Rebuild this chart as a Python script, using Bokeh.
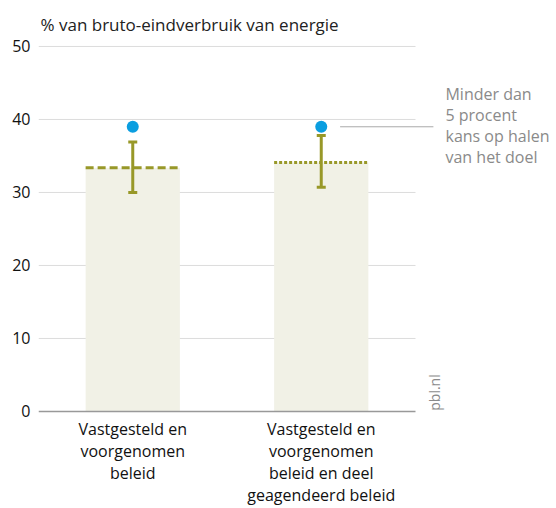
from bokeh.plotting import figure
from bokeh.models import ColumnDataSource, Range1d, FixedTicker, Whisker, TeeHead
from bokeh.core.properties import value
from bokeh.embed import file_html
from bokeh.resources import INLINE

categories = ["Vastgesteld en\nvoorgenomen\nbeleid",
              "Vastgesteld en\nvoorgenomen\nbeleid en deel\ngeagendeerd beleid"]
x_pos = [0.5, 1.5]
bar_values = [33.4, 34.1]
err_low = [30.0, 30.7]
err_high = [36.9, 37.8]
target_values = [39.0, 39.0]
y_ticks = [0, 10, 20, 30, 40, 50]
note_text = "Minder dan\n5 procent\nkans op halen\nvan het doel"
source_text = "pbl.nl"

FONT = "Open Sans"
OLIVE = "#989828"
BAR = "#f1f1e6"
BLUE = "#0a9ee0"
GREY_TXT = "#8a8a8a"

p = figure(width=556, height=508, output_backend="svg", toolbar_location=None,
           x_range=Range1d(0, 2.748), y_range=Range1d(-13.29, 50.27),
           min_border_left=38, min_border_right=0, min_border_top=44,
           min_border_bottom=0)
p.outline_line_color = None
p.title.text = "% van bruto-eindverbruik van energie"
p.title.text_font = FONT
p.title.text_font_size = "17px"
p.title.text_font_style = "normal"
p.title.text_color = "#222222"
p.title.offset = 2
p.title.standoff = 18

src = ColumnDataSource(dict(x=x_pos, top=bar_values, lo=err_low, hi=err_high,
                            t=target_values))

# gridlines (drawn over the category extent only)
grid = ColumnDataSource(dict(y=y_ticks[1:], x0=[0] * (len(y_ticks) - 1),
                             x1=[2] * (len(y_ticks) - 1)))
p.segment(x0="x0", x1="x1", y0="y", y1="y", source=grid, line_color="#dddddd", line_width=1)

p.vbar(x="x", top="top", width=0.5, bottom=0, source=src, fill_color=BAR, line_color=None)

# baseline
p.segment(x0=[0], x1=[2], y0=[y_ticks[0]], y1=[y_ticks[0]], line_color="#999999", line_width=1.5)

# lines at bar tops
s1 = ColumnDataSource(dict(x0=[x_pos[0] - 0.25], x1=[x_pos[0] + 0.25], y=[bar_values[0]]))
s2 = ColumnDataSource(dict(x0=[x_pos[1] - 0.25], x1=[x_pos[1] + 0.25], y=[bar_values[1]]))
p.segment(x0="x0", x1="x1", y0="y", y1="y", source=s1, line_color=OLIVE, line_width=3,
          line_dash="8 4")
p.segment(x0="x0", x1="x1", y0="y", y1="y", source=s2, line_color=OLIVE, line_width=3,
          line_dash="3 2")

w = Whisker(base="x", lower="lo", upper="hi", source=src, line_color=OLIVE, line_width=3,
            upper_head=TeeHead(size=9, line_color=OLIVE, line_width=3),
            lower_head=TeeHead(size=9, line_color=OLIVE, line_width=3))
w.level = "overlay"
p.add_layout(w)

p.scatter(x="x", y="t", source=src, size=12, fill_color=BLUE, line_color=None)

# annotation connector + note
p.segment(x0=[x_pos[1] + 0.1], x1=[2.095], y0=[target_values[1]], y1=[target_values[1]],
          line_color="#aaaaaa", line_width=1)
p.text(x=[2.159], y=[45.0], text=[note_text], text_font=value(FONT),
       text_font_size="16px", text_color=GREY_TXT, text_baseline="top",
       text_align="left", text_line_height=0.96)
p.text(x=[2.053], y=[0.1], text=[source_text], angle=1.5708, text_font=value(FONT),
       text_font_size="14px", text_color=GREY_TXT, text_baseline="top", text_align="left")

# category labels
p.text(x=x_pos, y=[-0.9, -0.9], text=categories, text_font=value(FONT),
       text_font_size="16px", text_color="#111111", text_baseline="top",
       text_align="center", text_line_height=1.0)

# axes
p.xaxis.visible = False
p.xgrid.grid_line_color = None
p.ygrid.grid_line_color = None

p.yaxis.ticker = FixedTicker(ticks=y_ticks)
p.yaxis.major_label_text_font = FONT
p.yaxis.major_label_text_font_size = "16px"
p.yaxis.major_label_text_color = "#111111"
p.yaxis.axis_line_color = None
p.yaxis.major_tick_line_color = None
p.yaxis.minor_tick_line_color = None
p.yaxis.major_label_standoff = 2

open("out.html", "w").write(file_html(p, INLINE))
